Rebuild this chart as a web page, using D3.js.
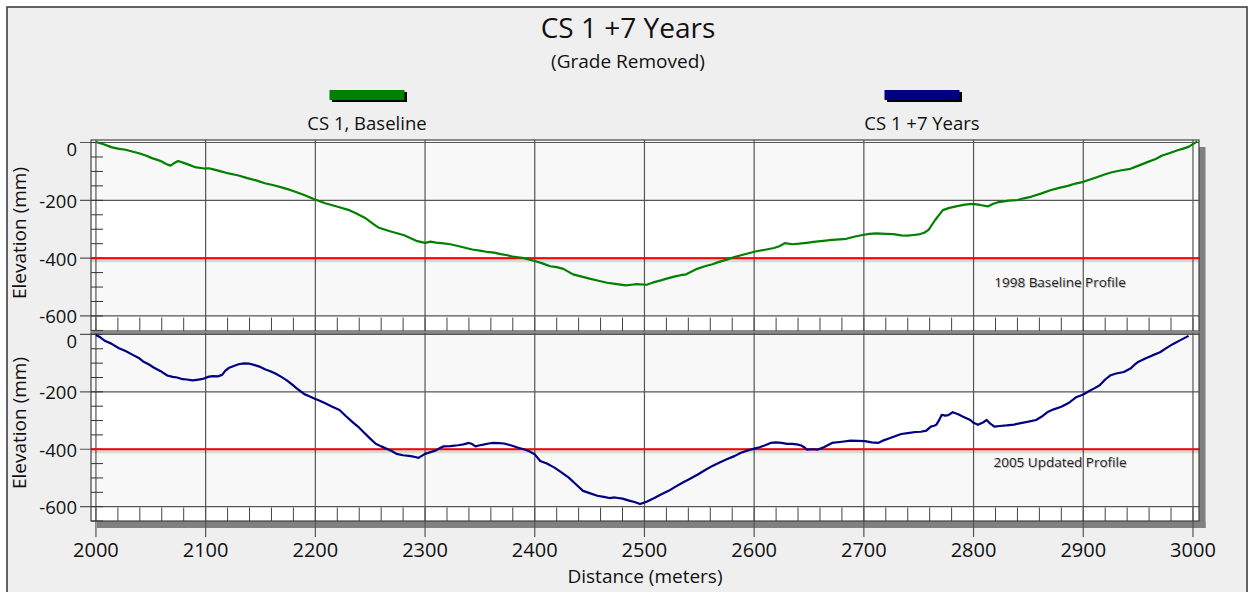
<!DOCTYPE html>
<html>
<head>
<meta charset="utf-8">
<script src="https://cdn.jsdelivr.net/npm/d3@7"></script>
<style>
  body { margin: 0; background: #fff; }
  text { font-family: "Open Sans", Lato, sans-serif; fill: #111; }
</style>
</head>
<body>
<svg id="chart" width="1252" height="592"></svg>
<script>
// tick values
var xTicks = [2000, 2100, 2200, 2300, 2400, 2500, 2600, 2700, 2800, 2900, 3000];
var yTicks = [0, -200, -400, -600];
var refLevel = -400;

var seriesNames = ["CS 1, Baseline", "CS 1 +7 Years"];
var panelNotes = ["1998 Baseline Profile", "2005 Updated Profile"];

// 1998 baseline profile (distance m, elevation mm)
var baselineDist = [2000, 2007, 2014, 2020, 2027, 2033, 2040, 2046, 2051, 2056, 2060, 2064, 2068, 2071, 2075, 2082, 2090, 2099, 2103, 2107, 2114, 2121, 2130, 2138, 2146, 2154, 2162, 2170, 2177, 2183, 2191, 2199, 2209, 2222, 2230, 2237, 2245, 2253, 2258, 2268, 2281, 2292, 2300, 2305, 2310, 2317, 2323, 2330, 2343, 2350, 2356, 2363, 2369, 2375, 2380, 2385, 2390, 2400, 2407, 2414, 2420, 2426, 2435, 2442, 2450, 2458, 2466, 2475, 2483, 2488, 2493, 2502, 2508, 2515, 2521, 2528, 2533, 2538, 2548, 2555, 2562, 2568, 2575, 2582, 2588, 2595, 2601, 2610, 2618, 2623, 2628, 2635, 2641, 2648, 2654, 2663, 2671, 2678, 2684, 2692, 2699, 2705, 2711, 2720, 2727, 2734, 2740, 2745, 2750, 2755, 2759, 2765, 2772, 2778, 2784, 2792, 2799, 2806, 2813, 2818, 2823, 2832, 2840, 2846, 2853, 2862, 2870, 2878, 2886, 2893, 2900, 2907, 2913, 2920, 2926, 2935, 2943, 2951, 2959, 2966, 2972, 2979, 2986, 2991, 2996, 3004];
var baselineElev = [2, -6, -16, -21, -25, -31, -38, -46, -54, -60, -66, -74, -80, -72, -64, -73, -85, -90, -89, -93, -100, -107, -114, -123, -131, -141, -148, -156, -164, -172, -183, -196, -210, -224, -233, -245, -260, -282, -295, -307, -321, -340, -347, -343, -346, -349, -352, -358, -370, -374, -378, -381, -386, -390, -395, -397, -400, -410, -418, -428, -431, -437, -456, -463, -471, -478, -485, -490, -494, -492, -490, -492, -484, -477, -470, -463, -459, -456, -437, -428, -421, -413, -405, -396, -390, -383, -377, -371, -365, -359, -348, -352, -350, -347, -344, -340, -337, -335, -333, -325, -320, -316, -314, -316, -317, -321, -322, -320, -318, -312, -302, -268, -234, -226, -221, -215, -212, -216, -221, -212, -206, -201, -199, -193, -187, -176, -165, -157, -150, -142, -136, -127, -119, -110, -103, -96, -91, -79, -67, -57, -45, -36, -27, -21, -15, 4];

// 2005 updated profile (distance m, elevation mm)
var updatedDist = [2000, 2004, 2008, 2014, 2021, 2027, 2034, 2039, 2043, 2048, 2053, 2059, 2065, 2070, 2074, 2079, 2083, 2088, 2092, 2096, 2099, 2103, 2107, 2111, 2115, 2118, 2121, 2125, 2130, 2135, 2140, 2144, 2149, 2154, 2159, 2164, 2169, 2174, 2179, 2183, 2187, 2190, 2195, 2199, 2204, 2209, 2215, 2222, 2228, 2235, 2240, 2245, 2250, 2255, 2260, 2265, 2270, 2274, 2280, 2287, 2291, 2294, 2297, 2300, 2305, 2310, 2314, 2317, 2323, 2330, 2335, 2340, 2343, 2346, 2350, 2353, 2358, 2362, 2367, 2372, 2378, 2385, 2390, 2395, 2400, 2405, 2411, 2418, 2424, 2431, 2437, 2444, 2450, 2457, 2463, 2468, 2473, 2480, 2486, 2491, 2496, 2502, 2509, 2515, 2522, 2528, 2535, 2542, 2549, 2555, 2562, 2568, 2575, 2582, 2588, 2595, 2600, 2605, 2610, 2615, 2620, 2625, 2630, 2635, 2640, 2643, 2646, 2648, 2653, 2658, 2664, 2671, 2680, 2688, 2695, 2701, 2707, 2713, 2718, 2724, 2729, 2734, 2740, 2747, 2752, 2757, 2759, 2761, 2764, 2766, 2769, 2771, 2774, 2777, 2781, 2786, 2790, 2794, 2797, 2800, 2804, 2809, 2812, 2815, 2819, 2824, 2830, 2837, 2843, 2850, 2857, 2863, 2868, 2873, 2880, 2887, 2893, 2900, 2905, 2910, 2915, 2920, 2925, 2930, 2937, 2943, 2946, 2950, 2956, 2963, 2970, 2976, 2982, 2989, 2996, 3003];
var updatedElev = [-2, -10, -22, -32, -48, -58, -72, -82, -94, -104, -116, -128, -143, -148, -150, -156, -157, -160, -158, -156, -153, -147, -145, -146, -141, -126, -117, -111, -104, -101, -102, -106, -112, -121, -128, -137, -148, -160, -175, -188, -199, -208, -216, -223, -231, -240, -251, -263, -285, -309, -325, -344, -363, -381, -390, -398, -407, -416, -421, -424, -427, -430, -423, -416, -410, -404, -395, -390, -389, -386, -383, -378, -382, -390, -386, -384, -380, -378, -379, -380, -386, -395, -400, -407, -418, -441, -450, -464, -480, -499, -520, -545, -553, -562, -566, -570, -568, -572, -579, -584, -591, -583, -570, -558, -545, -531, -516, -502, -487, -473, -458, -447, -435, -424, -412, -403, -398, -393, -386, -378, -376, -378, -381, -381, -384, -387, -394, -401, -400, -401, -392, -378, -374, -370, -371, -372, -376, -378, -369, -361, -354, -347, -344, -340, -339, -335, -328, -321, -318, -315, -296, -280, -283, -281, -271, -278, -286, -293, -298, -308, -315, -306, -298, -310, -321, -319, -317, -314, -309, -304, -298, -284, -269, -261, -252, -238, -220, -209, -198, -188, -177, -157, -142, -136, -131, -119, -108, -96, -85, -73, -62, -47, -33, -19, -5];

var svg = d3.select("#chart");

// outer frame
svg.append("rect")
  .attr("x", 7).attr("y", 7)
  .attr("width", 1240).attr("height", 600)
  .attr("fill", "#efefef")
  .attr("stroke", "#333").attr("stroke-width", 1.5);

var x = d3.scaleLinear().domain([1995.5, 3005.5]).range([91, 1199]);

var panels = [
  { name: seriesNames[0], note: panelNotes[0], dist: baselineDist, elev: baselineElev, color: "#008000",
    y: d3.scaleLinear().domain([-652, 8.7]).range([331, 140]), gridBottom: 331, axisMid: 233, noteDy: 29 },
  { name: seriesNames[1], note: panelNotes[1], dist: updatedDist, elev: updatedElev, color: "#000080",
    y: d3.scaleLinear().domain([-650, 5]).range([521, 333]), gridBottom: 537, axisMid: 423, noteDy: 18 }
];

// drop shadow of plot block
svg.append("rect").attr("x", 1199).attr("y", 147).attr("width", 6.5).attr("height", 381).attr("fill", "#808080");
svg.append("rect").attr("x", 97).attr("y", 521).attr("width", 1108.5).attr("height", 7).attr("fill", "#808080");

var minorX = d3.range(2000, 3001, 20);
var minorY = d3.range(0, -651, -50);

panels.forEach(function(p, i) {
  var y = p.y;
  var top = y.range()[1], bottom = y.range()[0];
  var g = svg.append("g");

  g.append("rect")
    .attr("x", 91).attr("y", top)
    .attr("width", 1108).attr("height", bottom - top)
    .attr("fill", "#fff");

  // alternating bands
  [[y.domain()[1], 0], [0, -200], [-400, -600]].forEach(function(b) {
    g.append("rect")
      .attr("x", 91).attr("y", y(b[0]))
      .attr("width", 1108).attr("height", y(b[1]) - y(b[0]))
      .attr("fill", "#f8f8f8");
  });

  // minor x ticks along the bottom
  g.selectAll(".mx").data(minorX).enter().append("line")
    .attr("x1", d => x(d)).attr("x2", d => x(d))
    .attr("y1", bottom - 13.5).attr("y2", bottom)
    .attr("stroke", "#444").attr("stroke-width", 1);

  // vertical gridlines
  g.selectAll(".gx").data(xTicks).enter().append("line")
    .attr("x1", d => x(d)).attr("x2", d => x(d))
    .attr("y1", top).attr("y2", p.gridBottom)
    .attr("stroke", "#555").attr("stroke-width", 1.2);

  // horizontal gridlines with outer ticks
  g.selectAll(".gy").data(yTicks).enter().append("line")
    .attr("x1", 80).attr("x2", 1199)
    .attr("y1", d => y(d)).attr("y2", d => y(d))
    .attr("stroke", "#555").attr("stroke-width", 1.2);

  // minor y ticks
  g.selectAll(".my").data(minorY).enter().append("line")
    .attr("x1", 91).attr("x2", 103)
    .attr("y1", d => y(d)).attr("y2", d => y(d))
    .attr("stroke", "#333").attr("stroke-width", 1);

  // reference line with soft shadow
  g.append("line")
    .attr("x1", 91).attr("x2", 1199)
    .attr("y1", y(refLevel) + 2.5).attr("y2", y(refLevel) + 2.5)
    .attr("stroke", "rgba(0,0,0,0.12)").attr("stroke-width", 3);
  g.append("line")
    .attr("x1", 91).attr("x2", 1200)
    .attr("y1", y(refLevel)).attr("y2", y(refLevel))
    .attr("stroke", "#ff0000").attr("stroke-width", 2);

  // profile line
  var line = d3.line()
    .x((d, j) => x(p.dist[j]))
    .y(d => y(d));
  g.append("path")
    .datum(p.elev)
    .attr("d", line)
    .attr("fill", "none")
    .attr("stroke", p.color)
    .attr("stroke-width", 2.2)
    .attr("stroke-linejoin", "round");

  // panel border
  g.append("rect")
    .attr("x", 91).attr("y", top)
    .attr("width", 1108).attr("height", bottom - top)
    .attr("fill", "none")
    .attr("stroke", "#444").attr("stroke-width", 1.2);

  // y tick labels
  g.selectAll(".ly").data(yTicks).enter().append("text")
    .attr("x", 77)
    .attr("y", d => y(d) + (d == 0 ? 7 : 1))
    .attr("dy", "0.35em")
    .attr("text-anchor", "end")
    .style("font-size", "18.5px")
    .text(d => d);

  // axis title
  g.append("text")
    .attr("transform", "translate(26," + p.axisMid + ") rotate(-90)")
    .attr("text-anchor", "middle")
    .style("font-size", "19px")
    .text("Elevation (mm)");

  // note with shadow
  var ny = y(refLevel) + p.noteDy;
  g.append("text")
    .attr("x", 1061).attr("y", ny + 1)
    .attr("text-anchor", "middle")
    .style("font-size", "13.5px").style("fill", "rgba(0,0,0,0.25)")
    .text(p.note);
  g.append("text")
    .attr("x", 1060).attr("y", ny)
    .attr("text-anchor", "middle")
    .style("font-size", "13.5px").style("fill", "#222")
    .text(p.note);
});

// x tick labels
svg.selectAll(".lx").data(xTicks).enter().append("text")
  .attr("x", d => x(d)).attr("y", 557)
  .attr("text-anchor", "middle")
  .style("font-size", "20px")
  .text(d => d);

svg.append("text")
  .attr("x", 645).attr("y", 583)
  .attr("text-anchor", "middle")
  .style("font-size", "19px")
  .text("Distance (meters)");

// titles
svg.append("text")
  .attr("x", 628).attr("y", 38)
  .attr("text-anchor", "middle")
  .style("font-size", "28px")
  .text("CS 1 +7 Years");
svg.append("text")
  .attr("x", 628).attr("y", 68)
  .attr("text-anchor", "middle")
  .style("font-size", "19px")
  .text("(Grade Removed)");

// legend
var legendX = [367, 922];
panels.forEach(function(p, i) {
  var lg = svg.append("g");
  lg.append("rect")
    .attr("x", legendX[i] - 35).attr("y", 92)
    .attr("width", 75).attr("height", 10)
    .attr("fill", "#000");
  lg.append("rect")
    .attr("x", legendX[i] - 37.5).attr("y", 90)
    .attr("width", 75).attr("height", 10)
    .attr("fill", p.color);
  lg.append("text")
    .attr("x", legendX[i]).attr("y", 130)
    .attr("text-anchor", "middle")
    .style("font-size", "18.5px")
    .text(p.name);
});
</script>
</body>
</html>
